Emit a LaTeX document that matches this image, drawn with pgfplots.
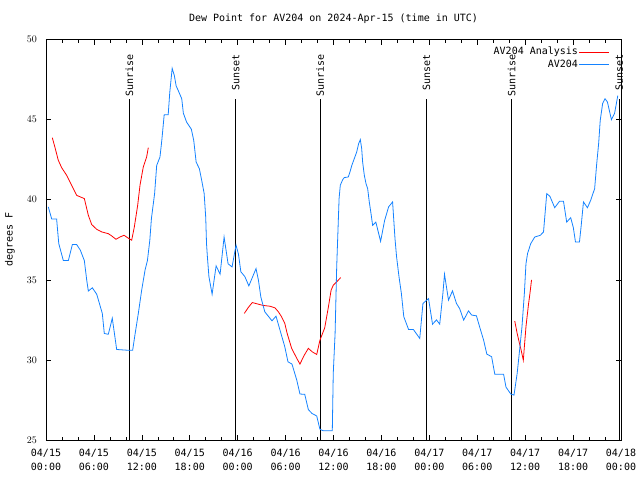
\documentclass[border=0pt]{standalone}
\usepackage{pgfplots}
\pgfplotsset{compat=1.18}
\usepackage{fontspec}
\setmainfont{DejaVu Sans Mono}
\definecolor{gpblue}{RGB}{20,130,255}
\definecolor{gpred}{RGB}{255,0,0}
\begin{document}
\fontsize{10}{12}\selectfont
\begin{tikzpicture}
\path[use as bounding box] (0,0) rectangle (640pt,480pt);
\begin{axis}[
  at={(46pt,40pt)}, anchor=south west,
  scale only axis, width=575pt, height=400.5pt,
  xmin=0, xmax=72, ymin=25, ymax=50,
  xtick={0,6,...,72},
  xticklabels={{04/15\\00:00},{04/15\\06:00},{04/15\\12:00},{04/15\\18:00},{04/16\\00:00},{04/16\\06:00},{04/16\\12:00},{04/16\\18:00},{04/17\\00:00},{04/17\\06:00},{04/17\\12:00},{04/17\\18:00},{04/18\\00:00}},
  minor xtick={2,4,8,10,14,16,20,22,26,28,32,34,38,40,44,46,50,52,56,58,62,64,68,70},
  ytick={25,30,...,50},
  tick align=inside,
  major tick length=5pt, minor tick length=3pt,
  every tick/.style={black, line width=0.6pt},
  axis line style={black, line width=0.8pt},
  xticklabel style={align=center, font=\fontsize{10}{14}\selectfont, inner sep=0pt, yshift=-9pt},
  yticklabel style={inner sep=0pt, xshift=-9pt, font=\fontsize{10}{12}\selectfont},
  title={Dew Point for AV204 on 2024-Apr-15 (time in UTC)},
  title style={at={(0.5,1)}, anchor=base, yshift=12pt, inner sep=0pt, font=\fontsize{10}{12}\selectfont},
  ylabel={degrees F},
  ylabel style={at={(axis description cs:-0.0626,0.5)}, anchor=center, inner sep=0pt, font=\fontsize{10}{12}\selectfont},
  legend style={at={(1,1)}, anchor=north east, xshift=-11pt, yshift=-7pt, draw=none, fill=none,
    font=\fontsize{10}{12}\selectfont, inner sep=0pt, row sep=1.5pt,
    nodes={inner sep=1pt, text height=7pt, text depth=2pt}},
  legend plot pos=right,
  legend cell align=right,
  legend image code/.code={\draw[#1] (0pt,0pt) -- (30pt,0pt);},
  unbounded coords=jump,
  clip=false,
]
% Sunrise / sunset markers
\addplot[black, line width=0.9pt, forget plot] coordinates {(10.43,25) (10.43,46.26)};
\addplot[black, line width=0.9pt, forget plot] coordinates {(23.75,25) (23.75,46.26)};
\addplot[black, line width=0.9pt, forget plot] coordinates {(34.33,25) (34.33,46.26)};
\addplot[black, line width=0.9pt, forget plot] coordinates {(47.65,25) (47.65,46.26)};
\addplot[black, line width=0.9pt, forget plot] coordinates {(58.31,25) (58.31,46.26)};
\addplot[black, line width=0.9pt, forget plot] coordinates {(71.79,25) (71.79,46.26)};
\node[rotate=90, anchor=east, inner sep=0pt] at (axis cs:10.43,49.1) {Sunrise};
\node[rotate=90, anchor=east, inner sep=0pt] at (axis cs:23.75,49.1) {Sunset};
\node[rotate=90, anchor=east, inner sep=0pt] at (axis cs:34.33,49.1) {Sunrise};
\node[rotate=90, anchor=east, inner sep=0pt] at (axis cs:47.65,49.1) {Sunset};
\node[rotate=90, anchor=east, inner sep=0pt] at (axis cs:58.31,49.1) {Sunrise};
\node[rotate=90, anchor=east, inner sep=0pt] at (axis cs:71.79,49.1) {Sunset};
% Analysis (red)
\addplot[gpred, line width=0.8pt] coordinates {
(0.79,43.87) (1.13,43.25) (1.54,42.46) (1.96,42.0) (2.59,41.52) (3.21,40.9) (3.84,40.27) (4.8,40.07)
(5.3,39.03) (5.72,38.45) (6.35,38.15) (6.97,37.99) (7.8,37.88) (8.2,37.75) (8.76,37.53) (9.26,37.67)
(9.77,37.78) (10.3,37.6) (10.73,37.47) (11.06,38.3) (11.48,39.65) (11.77,40.9) (12.18,42.04) (12.6,42.66) (12.81,43.25)
(13,nan)
(24.83,32.9) (25.33,33.27) (25.83,33.58) (26.58,33.48) (27.2,33.4) (28.05,33.35) (28.67,33.25) (29.1,33.0)
(29.5,32.69) (29.9,32.28) (30.2,31.65) (30.76,30.72) (31.4,30.1) (31.8,29.74) (32.3,30.26) (32.85,30.72)
(33.35,30.5) (33.9,30.34) (34.3,31.23) (34.9,32.0) (35.35,33.27) (35.7,34.35) (35.97,34.66) (36.4,34.87) (36.9,35.14)
(37,nan)
(58.7,32.42) (59.0,31.65) (59.27,31.07) (59.5,30.6) (59.77,29.98) (59.9,30.82) (60.1,32.06) (60.4,33.4) (60.6,34.15) (60.8,35.0)
};
\addlegendentry{AV204 Analysis}
% Observations (blue)
\addplot[gpblue, line width=0.8pt] coordinates {
(0.29,39.55) (0.71,38.8) (1.33,38.8) (1.45,38.1) (1.6,37.26) (2.17,36.2) (2.8,36.2) (3.3,37.2) (3.84,37.2)
(4.3,36.85) (4.8,36.2) (5.1,34.98) (5.3,34.3) (5.8,34.5) (6.35,34.1) (6.76,33.4) (7.05,32.9) (7.3,31.65)
(7.8,31.6) (8.3,32.6) (8.85,30.65) (10.3,30.6) (10.85,30.6) (11.1,31.44) (11.56,32.9) (11.98,34.35)
(12.4,35.6) (12.7,36.2) (13.0,37.47) (13.2,38.82) (13.6,40.38) (13.86,42.14) (14.27,42.66) (14.5,43.7)
(14.8,45.3) (15.3,45.3) (15.5,46.7) (15.8,48.2) (16.07,47.75) (16.3,47.1) (16.57,46.8) (17.0,46.3)
(17.2,45.4) (17.6,44.85) (18.2,44.4) (18.5,43.7) (18.8,42.35) (19.2,41.94) (19.5,41.2) (19.8,40.4)
(20.0,38.9) (20.1,37.26) (20.2,36.5) (20.4,35.2) (20.8,34.1) (21.3,35.87) (21.8,35.35) (22.3,37.67)
(22.8,36.0) (23.3,35.8) (23.6,36.64) (23.8,37.16) (24.1,36.6) (24.4,35.5) (24.9,35.2) (25.4,34.62)
(26.3,35.7) (26.6,34.98) (26.9,33.93) (27.4,33.0) (28.3,32.44) (28.8,32.73) (29.3,31.86) (29.9,30.82)
(30.3,29.88) (30.8,29.74) (31.4,28.74) (31.8,27.87) (32.4,27.85) (32.85,26.9) (33.3,26.66) (33.9,26.5)
(34.3,25.67) (34.7,25.58) (35.85,25.58) (35.97,29.16) (36.2,31.65) (36.4,35.8) (36.7,40.07) (36.85,40.9)
(37.15,41.25) (37.35,41.38) (37.85,41.42) (38.06,41.73) (38.3,42.15) (38.6,42.56) (38.9,42.97) (39.15,43.5)
(39.36,43.75) (39.53,43.19) (39.65,42.35) (39.86,41.52) (40.07,41.0) (40.28,40.69) (40.48,39.86) (40.7,39.13)
(40.9,38.4) (41.3,38.6) (41.9,37.4) (42.4,38.7) (42.9,39.55) (43.4,39.86) (43.7,37.57) (43.9,36.43)
(44.2,35.2) (44.5,34.15) (44.8,32.7) (45.4,31.9) (46.0,31.9) (46.8,31.34) (47.2,33.52) (47.9,33.83)
(48.4,32.23) (48.9,32.5) (49.3,32.23) (49.7,34.15) (49.9,35.35) (50.4,33.73) (50.9,34.31) (51.4,33.52)
(51.8,33.2) (52.3,32.48) (52.9,33.06) (53.3,32.8) (53.9,32.75) (54.3,32.06) (54.8,31.23) (55.2,30.36)
(55.8,30.2) (56.2,29.1) (57.3,29.1) (57.6,28.3) (58.2,27.87) (58.6,27.8) (59.0,29.16) (59.3,30.6)
(59.6,32.06) (59.9,34.15) (60.1,36.0) (60.3,36.64) (60.7,37.26) (61.2,37.67) (61.9,37.78) (62.3,37.99)
(62.7,40.38) (63.1,40.21) (63.7,39.5) (64.3,39.9) (64.8,39.9) (65.2,38.6) (65.7,38.88) (66.03,38.26)
(66.3,37.36) (66.8,37.36) (67.0,38.3) (67.3,39.86) (67.8,39.5) (68.2,39.96) (68.7,40.69) (68.96,42.25)
(69.2,43.5) (69.4,44.95) (69.7,46.0) (70.0,46.3) (70.3,46.1) (70.8,45.0) (71.2,45.4) (71.6,46.5)
};
\addlegendentry{AV204}
\end{axis}
\end{tikzpicture}
\end{document}
